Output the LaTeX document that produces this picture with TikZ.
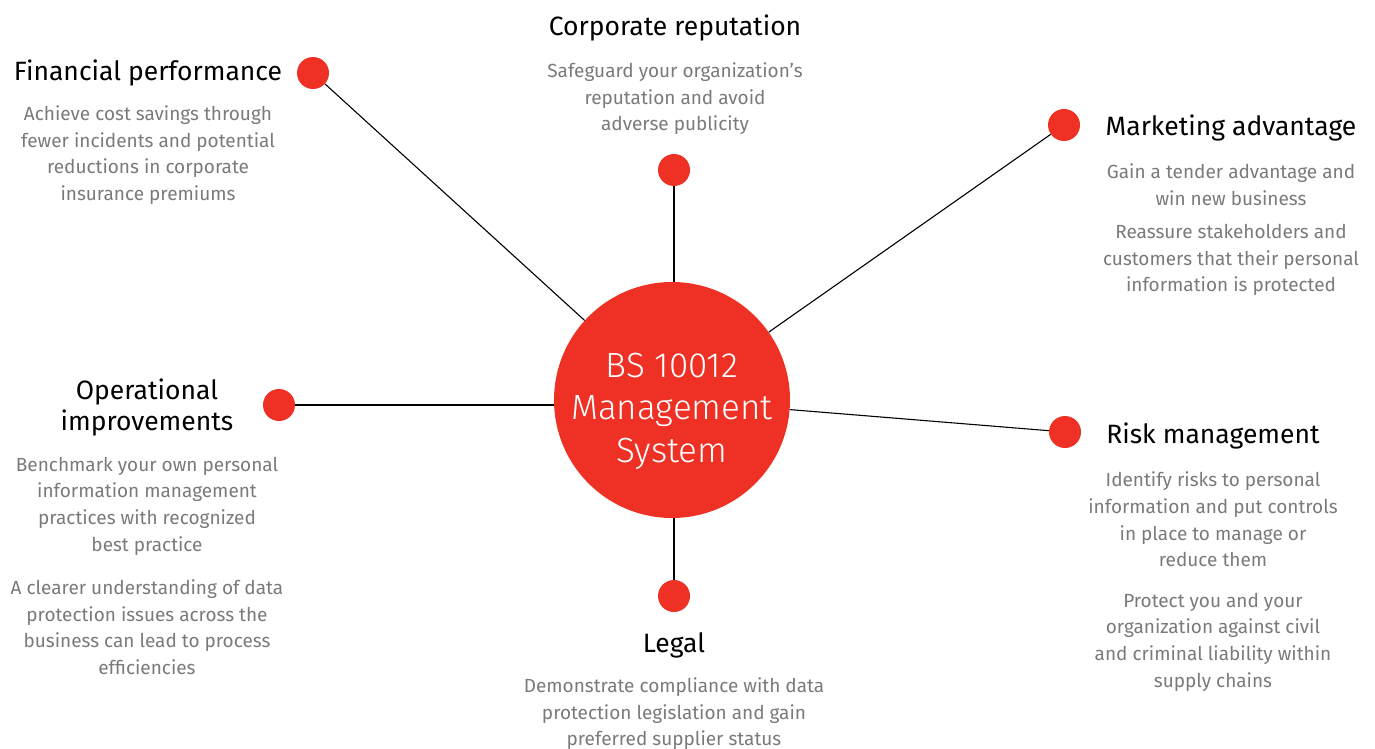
\documentclass[tikz,border=0pt]{standalone}
\usepackage{fontspec}
\setmainfont{Fira Sans}
\newfontfamily\lightfont{Fira Sans Light}
\definecolor{bsred}{RGB}{238,49,36}
\definecolor{bodygrey}{RGB}{122,122,122}
\begin{document}
\begin{tikzpicture}[x=1pt,y=-1pt,
  dot/.style={circle,fill=bsred,minimum size=32pt,inner sep=0pt},
  hub/.style={circle,fill=bsred,minimum size=236pt,inner sep=0pt},
  hubtxt/.style={text=white,align=center,inner sep=0pt,font=\lightfont\fontsize{35}{42.5}\selectfont},
  title/.style={font=\fontsize{26.5}{31}\selectfont,align=center,inner sep=0pt,text=black},
  body/.style={font=\fontsize{19}{26.6}\selectfont,align=center,inner sep=0pt,text=bodygrey},
  link/.style={draw=black,line width=1.1pt}]
\useasboundingbox (0,0) rectangle (1375,749);
\node[hub] (hub) at (672,400) {};
\node[hubtxt] (hubtext) at (672,411) {BS 10012\\Management\\System};
\node[dot] (fin) at (313,73) {};
\node[dot] (cor) at (674,170) {};
\node[dot] (mkt) at (1064,125) {};
\node[dot] (ops) at (279,405) {};
\node[dot] (rsk) at (1065,432) {};
\node[dot] (leg) at (674,596) {};
\draw[link] (hub) -- (fin);
\draw[link] (cor) -- (hub.north -| cor);
\draw[link] (hub) -- (mkt);
\draw[link] (ops) -- (hub.west |- ops);
\draw[link] (hub) -- (rsk);
\draw[link] (leg) -- (hub.south -| leg);
% titles
\node[title,anchor=base] (fint) at (148,81) {Financial performance};
\node[title,anchor=base] (cort) at (675,36) {Corporate reputation};
\node[title,anchor=base] (mktt) at (1231,135.5) {Marketing advantage};
\node[title] (opst) at (147,407) {Operational\\improvements};
\node[title,anchor=base] (rskt) at (1213,443.5) {Risk management};
\node[title,anchor=base] (legt) at (674,652) {Legal};
% bodies
\node[body] (finb) at (148,155) {Achieve cost savings through\\fewer incidents and potential\\reductions in corporate\\insurance premiums};
\node[body] (corb) at (675,99) {Safeguard your organization’s\\reputation and avoid\\adverse publicity};
\node[body] (mktb1) at (1231,184.5) {Gain a tender advantage and\\win new business};
\node[body] (mktb2) at (1231,260) {Reassure stakeholders and\\customers that their personal\\information is protected};
\node[body] (opsb1) at (147,506) {Benchmark your own personal\\information management\\practices with recognized\\best practice};
\node[body] (opsb2) at (147,627) {A clearer understanding of data\\protection issues across the\\business can lead to process\\efficiencies};
\node[body] (rskb1) at (1213,519.5) {Identify risks to personal\\information and put controls\\in place to manage or\\reduce them};
\node[body] (rskb2) at (1213,642) {Protect you and your\\organization against civil\\and criminal liability within\\supply chains};
\node[body] (legb) at (674,714) {Demonstrate compliance with data\\protection legislation and gain\\preferred supplier status};
\end{tikzpicture}
\end{document}
